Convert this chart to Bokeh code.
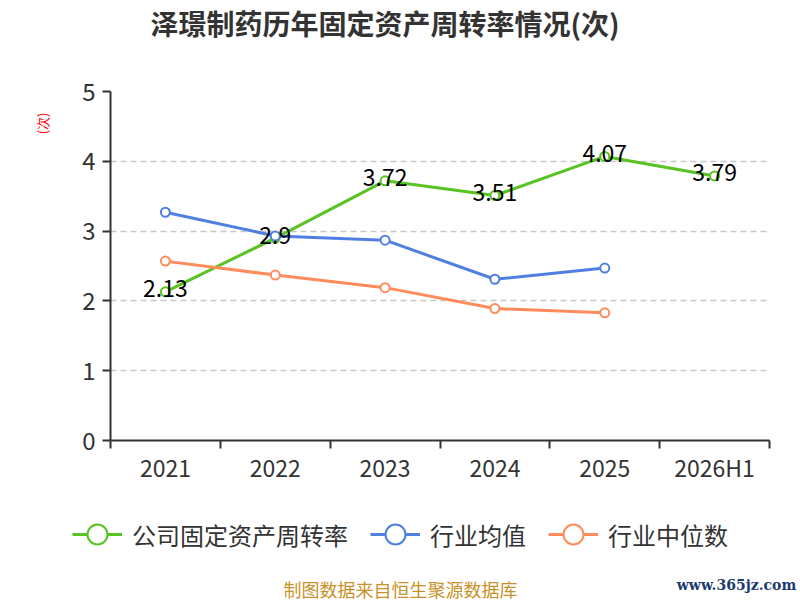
import math
from bokeh.plotting import figure
from bokeh.layouts import column, row
from bokeh.models import (ColumnDataSource, Range1d, FixedTicker, Legend, LegendItem, Title,
                          LinearAxis)
from bokeh.core.properties import value
from bokeh.embed import file_html
from bokeh.resources import INLINE

categories = ["2021", "2022", "2023", "2024", "2025", "2026H1"]
company = [2.13, 2.9, 3.72, 3.51, 4.07, 3.79]
industry_avg = [3.27, 2.93, 2.87, 2.31, 2.47]
industry_median = [2.57, 2.37, 2.19, 1.89, 1.83]
y_ticks = [0, 1, 2, 3, 4, 5]
series_names = ["公司固定资产周转率", "行业均值", "行业中位数"]
title_text = "泽璟制药历年固定资产周转率情况(次)"
y_label_text = "(次)"
source_text = "制图数据来自恒生聚源数据库"
site_text = "www.365jz.com"

FONT = "Noto Sans CJK SC"
GREEN = "#58c322"
BLUE = "#4f80e1"
ORANGE = "#ff8c5a"
COLORS = [GREEN, BLUE, ORANGE]

x_pos = [i + 0.5 for i in range(len(categories))]

# ================= main chart =================
p = figure(width=800, height=490, output_backend="svg", toolbar_location=None, title=None,
           x_range=Range1d(0, len(categories)), y_range=Range1d(0, 5),
           min_border_left=110, min_border_right=31, min_border_top=90, min_border_bottom=50)
p.outline_line_color = None

xaxis = p.xaxis[0]
yaxis = p.yaxis[0]

# title: an empty spacing axis next to the frame, then the title
gap_top = LinearAxis(ticker=FixedTicker(ticks=[x_pos[0]]), axis_line_color=None,
                     major_tick_in=0, major_tick_out=49, minor_tick_in=0, minor_tick_out=0,
                     major_tick_line_color=None, minor_tick_line_color=None,
                     major_label_standoff=0, major_label_text_font_size="1px",
                     major_label_text_color=None)
p.add_layout(gap_top, "above")
p.add_layout(Title(text=title_text, align="left", offset=40, standoff=0,
                   text_font=FONT, text_font_size="28px", text_font_style="bold",
                   text_color="#333333"), "above")

# y unit label
p.add_layout(Title(text=y_label_text, align="right", offset=21, standoff=56,
                   text_font=FONT, text_font_size="13px", text_font_style="normal",
                   text_color="#ff0000"), "left")

yaxis.ticker = FixedTicker(ticks=y_ticks)
yaxis.major_tick_in = 0
yaxis.major_tick_out = 8
yaxis.minor_tick_line_color = None
yaxis.axis_line_color = "#333333"
yaxis.axis_line_width = 2
yaxis.major_tick_line_color = "#333333"
yaxis.major_tick_line_width = 2
yaxis.major_label_text_font = FONT
yaxis.major_label_text_font_size = "24px"
yaxis.major_label_text_color = "#333333"
yaxis.major_label_standoff = 7

xaxis.ticker = FixedTicker(ticks=x_pos, minor_ticks=list(range(0, len(categories) + 1)))
xaxis.major_tick_in = 0
xaxis.major_tick_out = 0
xaxis.minor_tick_in = 0
xaxis.minor_tick_out = 8
xaxis.minor_tick_line_color = "#333333"
xaxis.minor_tick_line_width = 2
xaxis.axis_line_color = "#333333"
xaxis.axis_line_width = 2
xaxis.major_label_overrides = {x: c for x, c in zip(x_pos, categories)}
xaxis.major_label_text_font = FONT
xaxis.major_label_text_font_size = "23px"
xaxis.major_label_text_color = "#333333"
xaxis.major_label_standoff = 1

p.xgrid.visible = False
p.ygrid.ticker = FixedTicker(ticks=[t for t in y_ticks if t > 0])
p.ygrid.grid_line_color = "#c8c8c8"
p.ygrid.grid_line_dash = "6 4"
p.ygrid.grid_line_width = 1.3

src_c = ColumnDataSource(dict(x=x_pos, y=company, label=[f"{v:g}" for v in company]))
src_a = ColumnDataSource(dict(x=x_pos[:len(industry_avg)], y=industry_avg))
src_m = ColumnDataSource(dict(x=x_pos[:len(industry_median)], y=industry_median))

for src, col in zip([src_c, src_a, src_m], COLORS):
    p.line('x', 'y', source=src, line_color=col, line_width=3)
    p.scatter('x', 'y', source=src, marker='circle', size=9, fill_color='white',
              line_color=col, line_width=2)

p.text('x', 'y', text='label', source=src_c, text_align='center', text_baseline='middle',
       y_offset=-3, text_font=value(FONT), text_font_size="23px", text_color="#000000")

# ================= legend + footer strip =================
FOOT_H = 110
p2 = figure(width=800, height=FOOT_H, output_backend="svg", toolbar_location=None, title=None,
            x_range=Range1d(0, 800), y_range=Range1d(FOOT_H, 0),
            x_axis_location=None, y_axis_location=None,
            min_border_left=0, min_border_right=0, min_border_top=0, min_border_bottom=0)
p2.outline_line_color = None
p2.xgrid.visible = False
p2.ygrid.visible = False

items = []
for name, col in zip(series_names, COLORS):
    ln = p2.line(x=[float('nan')], y=[float('nan')], line_color=col, line_width=3)
    sc = p2.scatter(x=[float('nan')], y=[float('nan')], marker='circle', fill_color='white',
                    line_color=col, line_width=2)
    items.append(LegendItem(label=name, renderers=[ln, sc]))

legend = Legend(items=items, orientation="horizontal", location=(72, 41),
                glyph_width=50, glyph_height=50, spacing=22, label_standoff=10,
                label_text_font=FONT, label_text_font_size="24px", label_text_color="#333333",
                background_fill_alpha=0, border_line_color=None, padding=0, margin=0)
p2.add_layout(legend, "center")

p2.text(x=[400], y=[98], text=[source_text], text_align='center', text_baseline='middle',
        text_font=value(FONT), text_font_size="18px", text_color="#c8922a")
p2.text(x=[736], y=[94], text=[site_text], text_align='center', text_baseline='middle',
        text_font=value("DejaVu Serif"), text_font_size="14px", text_font_style="bold",
        text_color="#1d3b6e")

layout = column(p, row(p2, spacing=0), spacing=0)
open("out.html", "w").write(file_html(layout, INLINE))
